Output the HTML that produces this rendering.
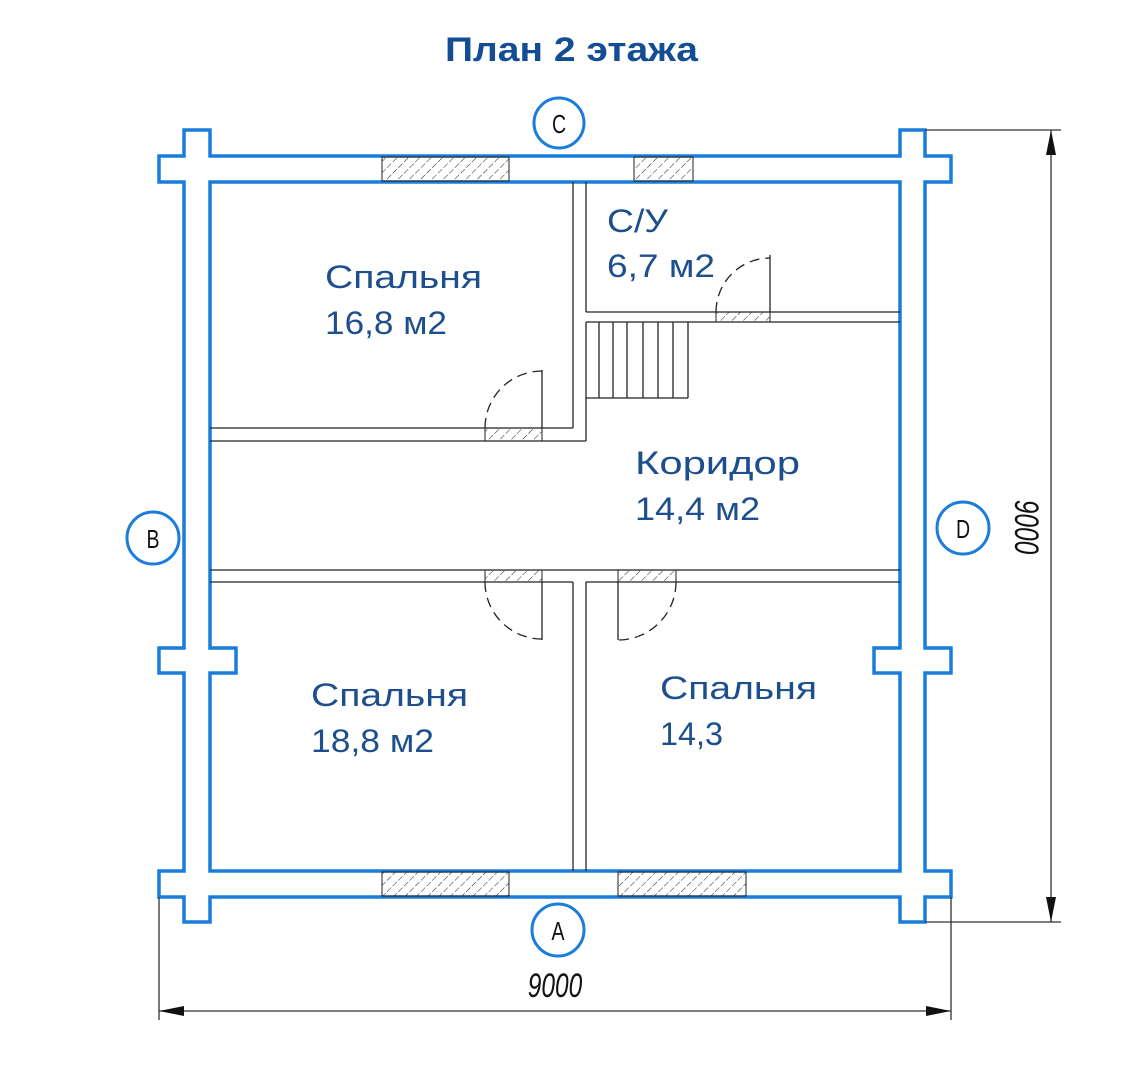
<!DOCTYPE html>
<html><head><meta charset="utf-8"><style>
html,body{margin:0;padding:0;background:#fff;}
svg{display:block;}
.lbl{font-family:"Liberation Sans",sans-serif;font-size:32px;fill:#1d4f8f;}
.ax{font-family:"Liberation Sans",sans-serif;font-size:26px;fill:#111;}
</style></head><body>
<svg width="1122" height="1080" viewBox="0 0 1122 1080" xmlns="http://www.w3.org/2000/svg">
<defs>
<pattern id="h" width="8" height="8" patternUnits="userSpaceOnUse" patternTransform="rotate(45)">
<line x1="0" y1="0" x2="0" y2="8" stroke="#222" stroke-width="1" stroke-dasharray="5,2"/>
</pattern>
</defs>
<text x="445" y="61" textLength="253" lengthAdjust="spacingAndGlyphs" font-family="Liberation Sans, sans-serif" font-weight="bold" font-size="34" fill="#134e94">План 2 этажа</text>

<path fill="none" stroke="#1a7ddb" stroke-width="3.5" stroke-linejoin="miter" d="
M184,130 L210,130 L210,156 L900,156 L900,130 L925,130 L925,156 L951,156 L951,182 L925,182 L925,648 L951,648 L951,673 L925,673 L925,871 L951,871 L951,897 L925,897 L925,922 L900,922 L900,897 L210,897 L210,922 L184,922 L184,897 L159,897 L159,871 L184,871 L184,673 L159,673 L159,648 L184,648 L184,182 L159,182 L159,156 L184,156 Z
M210,182 L900,182 L900,648 L874,648 L874,673 L900,673 L900,871 L210,871 L210,673 L236,673 L236,648 L210,648 Z"/>

<g stroke="#222" stroke-width="1">
<rect x="382" y="157" width="127" height="24" fill="url(#h)"/>
<rect x="634" y="157" width="59" height="24" fill="url(#h)"/>
<rect x="382" y="872" width="127" height="24" fill="url(#h)"/>
<rect x="618" y="872" width="128" height="24" fill="url(#h)"/>
</g>

<g stroke="#222" stroke-width="1.3" fill="none">
<line x1="210" y1="428" x2="573" y2="428"/>
<line x1="210" y1="441" x2="586" y2="441"/>
<line x1="573" y1="182" x2="573" y2="428"/>
<line x1="586" y1="182" x2="586" y2="312"/>
<line x1="586" y1="322" x2="586" y2="441"/>
<line x1="586" y1="312" x2="900" y2="312"/>
<line x1="586" y1="322" x2="900" y2="322"/>
<line x1="210" y1="570" x2="900" y2="570"/>
<line x1="210" y1="582" x2="573" y2="582"/>
<line x1="586" y1="582" x2="900" y2="582"/>
<line x1="573" y1="582" x2="573" y2="871"/>
<line x1="586" y1="582" x2="586" y2="871"/>
<line x1="586" y1="398" x2="688" y2="398"/>
<line x1="688" y1="322" x2="688" y2="398"/>
<line x1="599" y1="322" x2="599" y2="398"/>
<line x1="613" y1="322" x2="613" y2="398"/>
<line x1="627" y1="322" x2="627" y2="398"/>
<line x1="643" y1="322" x2="643" y2="398"/>
<line x1="658" y1="322" x2="658" y2="398"/>
<line x1="673" y1="322" x2="673" y2="398"/>
</g>

<g stroke="#222" stroke-width="1">
<rect x="716" y="312" width="54" height="10" fill="url(#h)"/>
<rect x="485" y="428" width="57" height="13" fill="url(#h)"/>
<rect x="485" y="570" width="57" height="12" fill="url(#h)"/>
<rect x="618" y="570" width="58" height="12" fill="url(#h)"/>
</g>
<g stroke="#222" stroke-width="1.3" fill="none">
<line x1="770" y1="255" x2="770" y2="312"/>
<path d="M716,312 A54,54 0 0 1 770,258" stroke-dasharray="10,6"/>
<line x1="542" y1="370" x2="542" y2="428"/>
<path d="M485,428 A57,57 0 0 1 542,371" stroke-dasharray="10,6"/>
<line x1="542" y1="582" x2="542" y2="640"/>
<path d="M485,582 A57,57 0 0 0 542,639" stroke-dasharray="10,6"/>
<line x1="618" y1="582" x2="618" y2="640"/>
<path d="M676,582 A58,58 0 0 1 618,640" stroke-dasharray="10,6"/>
</g>

<text class="lbl" x="325" y="288" textLength="157" lengthAdjust="spacingAndGlyphs">Спальня</text>
<text class="lbl" x="325" y="334" textLength="122" lengthAdjust="spacingAndGlyphs">16,8 м2</text>
<text class="lbl" x="607" y="232" textLength="61" lengthAdjust="spacingAndGlyphs">С/У</text>
<text class="lbl" x="607" y="277" textLength="108" lengthAdjust="spacingAndGlyphs">6,7 м2</text>
<text class="lbl" x="635" y="474" textLength="165" lengthAdjust="spacingAndGlyphs">Коридор</text>
<text class="lbl" x="635" y="520" textLength="125" lengthAdjust="spacingAndGlyphs">14,4 м2</text>
<text class="lbl" x="311" y="706" textLength="157" lengthAdjust="spacingAndGlyphs">Спальня</text>
<text class="lbl" x="311" y="752" textLength="123" lengthAdjust="spacingAndGlyphs">18,8 м2</text>
<text class="lbl" x="660" y="699" textLength="157" lengthAdjust="spacingAndGlyphs">Спальня</text>
<text class="lbl" x="660" y="745" textLength="63" lengthAdjust="spacingAndGlyphs">14,3</text>

<g fill="#fff" stroke="#1a7ddb" stroke-width="3">
<circle cx="559" cy="123" r="25"/>
<circle cx="153" cy="538" r="26"/>
<circle cx="963" cy="528" r="26"/>
<circle cx="558" cy="930" r="26"/>
</g>
<g class="ax" text-anchor="middle">
<text transform="translate(559,133) scale(0.75,1)">C</text>
<text transform="translate(153,548) scale(0.75,1)">B</text>
<text transform="translate(963,538) scale(0.75,1)">D</text>
<text transform="translate(558,940) scale(0.75,1)">A</text>
</g>

<g stroke="#333" stroke-width="1.3" fill="none">
<line x1="925" y1="130" x2="1061" y2="130"/>
<line x1="925" y1="922" x2="1061" y2="922"/>
<line x1="1051" y1="130" x2="1051" y2="922"/>
<line x1="159" y1="897" x2="159" y2="1020"/>
<line x1="951" y1="897" x2="951" y2="1020"/>
<line x1="159" y1="1011" x2="951" y2="1011"/>
</g>
<g fill="#111">
<polygon points="1051,130 1046,155 1056,155"/>
<polygon points="1051,922 1046,897 1056,897"/>
<polygon points="159,1011 184,1006 184,1016"/>
<polygon points="951,1011 926,1006 926,1016"/>
</g>
<text transform="translate(555,997) scale(0.72,1)" text-anchor="middle" font-family="Liberation Sans, sans-serif" font-style="italic" font-size="34" fill="#111">9000</text>
<text transform="translate(1015,527) rotate(90) scale(0.72,1)" text-anchor="middle" font-family="Liberation Sans, sans-serif" font-style="italic" font-size="34" fill="#111">9000</text>
</svg>
</body></html>
